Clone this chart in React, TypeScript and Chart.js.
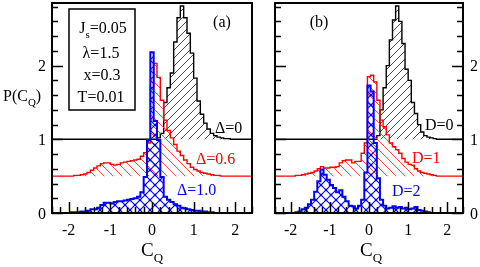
import React, { useEffect, useRef } from "react";
import { Chart, registerables } from "chart.js";
Chart.register(...registerables);

// Histogram bin centres (C_Q)
const binCenters = [
  -2.0, -1.92, -1.84, -1.76, -1.68, -1.6, -1.52, -1.44, -1.36, -1.28, -1.2, -1.12, -1.04,
  -0.96, -0.88, -0.8, -0.72, -0.64, -0.56, -0.48, -0.4, -0.32, -0.24, -0.16, -0.08, 0.0,
  0.08, 0.16, 0.24, 0.32, 0.4, 0.48, 0.56, 0.64, 0.72, 0.8, 0.88, 0.96, 1.04, 1.12, 1.2,
  1.28, 1.36, 1.44, 1.52, 1.6, 1.68, 1.76, 1.84, 1.92, 2.0,
];

// Panel (a): Delta = 0 (offset 1), 0.6 (offset 0.5), 1.0 (offset 0)
const deltaZeroA = [
  0, 0, 0, 0, 0, 0, 0, 0, 0, 0, 0, 0, 0,
  0, 0, 0, 0, 0, 0, 0, 0, 0, 0, 0, 0, 0,
  0, 0.02, 0.08, 0.5, 0.7, 0.9, 1.32, 1.65, 1.81, 1.65, 1.44, 1.17, 0.83, 0.52, 0.34,
  0.22, 0.14, 0.08, 0.05, 0.03, 0.02, 0.01, 0.01, 0, 0,
];
const deltaSixA = [
  0, 0, 0.01, 0.01, 0.02, 0.03, 0.05, 0.08, 0.11, 0.14, 0.17, 0.18, 0.18,
  0.16, 0.15, 0.16, 0.18, 0.19, 0.2, 0.21, 0.22, 0.23, 0.27, 0.32, 0.45, 1.2,
  1.53, 1.34, 1.03, 0.76, 0.62, 0.52, 0.43, 0.34, 0.28, 0.22, 0.17, 0.12, 0.09, 0.07, 0.05,
  0.04, 0.03, 0.02, 0.01, 0.01, 0, 0, 0, 0, 0,
];
const deltaOneA = [
  0, 0.01, 0.01, 0.01, 0.02, 0.02, 0.03, 0.05, 0.05, 0.07, 0.11, 0.14, 0.14,
  0.13, 0.15, 0.16, 0.16, 0.17, 0.18, 0.19, 0.2, 0.22, 0.28, 0.49, 0.99, 2.18,
  1.25, 0.99, 0.49, 0.22, 0.18, 0.15, 0.12, 0.1, 0.07, 0.06, 0.05, 0.04, 0.03, 0.03, 0.02,
  0.02, 0.01, 0.01, 0, 0, 0, 0, 0, 0, 0,
];

// Panel (b): D = 0 (offset 1), D = 1 (offset 0.5), D = 2 (offset 0)
const dZeroB = [
  0, 0, 0, 0, 0, 0, 0, 0, 0, 0, 0, 0, 0,
  0, 0, 0, 0, 0, 0, 0, 0, 0, 0, 0, 0, 0,
  0, 0, 0.05, 0.4, 0.7, 1.0, 1.35, 1.62, 1.81, 1.6, 1.3, 0.95, 0.8, 0.5, 0.35,
  0.2, 0.1, 0.05, 0.03, 0.02, 0.01, 0, 0, 0, 0,
];
const dOneB = [
  0, 0, 0.01, 0.01, 0.02, 0.03, 0.04, 0.05, 0.07, 0.1, 0.13, 0.11, 0.11,
  0.12, 0.12, 0.13, 0.18, 0.21, 0.22, 0.22, 0.18, 0.2, 0.2, 0.31, 0.45, 1.35,
  1.37, 1.28, 1.03, 0.76, 0.67, 0.56, 0.45, 0.4, 0.36, 0.31, 0.24, 0.19, 0.16, 0.15, 0.1,
  0.07, 0.05, 0.04, 0.03, 0.02, 0.01, 0, 0, 0, 0,
];
const dTwoB = [
  0, 0, 0.01, 0.02, 0.05, 0.07, 0.12, 0.18, 0.29, 0.43, 0.59, 0.52, 0.45,
  0.38, 0.34, 0.28, 0.31, 0.22, 0.16, 0.1, 0.09, 0.06, 0.1, 0.18, 0.55, 1.73,
  1.65, 0.95, 0.47, 0.18, 0.1, 0.06, 0.07, 0.09, 0.07, 0.08, 0.06, 0.07, 0.05, 0.06, 0.08,
  0.04, 0.03, 0.02, 0.01, 0, 0, 0, 0, 0, 0,
];

const offsets = [1, 0.5, 0];
const xTickLabels = ["-2", "-1", "0", "1", "2"];
const yTickLabels = ["0", "1", "2"];
const xRange = [-2.4, 2.4];
const yRange = [0, 2.85];

const SERIF = "'Liberation Serif', 'DejaVu Serif', serif";

function makePattern(color: string, kind: "fwd" | "back" | "cross", size: number, lw: number) {
  const c = document.createElement("canvas");
  c.width = size;
  c.height = size;
  const g = c.getContext("2d")!;
  g.strokeStyle = color;
  g.lineWidth = lw;
  const line = (a: number, b: number, d: number, e: number) => {
    g.beginPath();
    g.moveTo(a, b);
    g.lineTo(d, e);
    g.stroke();
  };
  if (kind === "fwd" || kind === "cross") {
    line(-1, size + 1, size + 1, -1);
    line(-1, 1, 1, -1);
    line(size - 1, size + 1, size + 1, size - 1);
  }
  if (kind === "back" || kind === "cross") {
    line(-1, -1, size + 1, size + 1);
    line(size - 1, -1, size + 1, 1);
    line(-1, size - 1, 1, size + 1);
  }
  if (kind === "cross") {
    g.fillStyle = color;
    const pts = [[size / 2, size / 2], [0, 0], [size, 0], [0, size], [size, size]];
    for (const [px, py] of pts) {
      g.beginPath();
      g.arc(px, py, 1.3, 0, Math.PI * 2);
      g.fill();
    }
  }
  return g.createPattern(c, "repeat")!;
}

type Part = { t: string; sub?: boolean };
function drawRich(ctx: CanvasRenderingContext2D, parts: Part[], x: number, y: number, size: number, align: "left" | "center" | "right", color: string) {
  const fontMain = `${size}px ${SERIF}`;
  const fontSub = `${Math.round(size * 0.7)}px ${SERIF}`;
  let total = 0;
  for (const p of parts) {
    ctx.font = p.sub ? fontSub : fontMain;
    total += ctx.measureText(p.t).width;
  }
  let cx = align === "left" ? x : align === "center" ? x - total / 2 : x - total;
  ctx.fillStyle = color;
  ctx.textAlign = "left";
  ctx.textBaseline = "alphabetic";
  for (const p of parts) {
    ctx.font = p.sub ? fontSub : fontMain;
    ctx.fillText(p.t, cx, p.sub ? y + size * 0.3 : y);
    cx += ctx.measureText(p.t).width;
  }
}

type Label = { parts: Part[]; x: number; y: number; size: number; align: "left" | "center" | "right"; color: string };
type PanelCfg = {
  series: number[][];
  padding: { left: number; right: number; top: number; bottom: number };
  leftLabels: boolean;
  rightLabels: boolean;
  rightTicks: boolean;
  labels: Label[];
  box?: { x0: number; y0: number; x1: number; y1: number };
};

function buildChart(canvas: HTMLCanvasElement, cfg: PanelCfg) {
  const colors = ["#000000", "#ff0000", "#0000ff"];
  const patterns = [
    makePattern("#333333", "fwd", 8, 0.9),
    makePattern("#ff3333", "back", 9, 0.9),
    makePattern("#0000ff", "cross", 10, 1.1),
  ];
  const widths = [1.4, 1.4, 2];
  const datasets = [2, 1, 0].map((k) => {
    const base = offsets[k];
    const pts = [{ x: -2.7, y: base }];
    binCenters.forEach((c, i) => pts.push({ x: c, y: base + cfg.series[k][i] }));
    pts.push({ x: 2.7, y: base });
    return {
      data: pts,
      borderColor: colors[k],
      borderWidth: widths[k],
      backgroundColor: patterns[k],
      fill: { value: base },
      stepped: "middle" as const,
      pointRadius: 0,
      tension: 0,
    };
  });

  const decor = {
    id: "decor",
    afterDraw(chart: any) {
      const ctx: CanvasRenderingContext2D = chart.ctx;
      const xs = chart.scales.x;
      const ys = chart.scales.y;
      const { left, right, top, bottom } = chart.chartArea;
      ctx.save();
      ctx.strokeStyle = "#000";
      ctx.lineWidth = 2;
      ctx.strokeRect(left, top, right - left, bottom - top);
      ctx.lineWidth = 1.5;
      const majorX = xTickLabels.map(Number);
      const majorY = yTickLabels.map(Number);
      // x ticks
      for (let v = -24; v <= 24; v += 2) {
        const val = v / 10;
        const isMajor = majorX.some((m) => Math.abs(m - val) < 1e-6);
        const px = Math.round(xs.getPixelForValue(val)) + 0.5;
        const len = isMajor ? 11 : 6;
        ctx.beginPath();
        ctx.moveTo(px, bottom);
        ctx.lineTo(px, bottom - len);
        ctx.stroke();
      }
      // y ticks
      for (let v = 0; v <= 28; v += 2) {
        const val = v / 10;
        const isMajor = majorY.some((m) => Math.abs(m - val) < 1e-6);
        const py = Math.round(ys.getPixelForValue(val)) + 0.5;
        const len = isMajor ? 11 : 6;
        ctx.beginPath();
        ctx.moveTo(left, py);
        ctx.lineTo(left + len, py);
        ctx.stroke();
        if (cfg.rightTicks) {
          ctx.beginPath();
          ctx.moveTo(right, py);
          ctx.lineTo(right - len, py);
          ctx.stroke();
        }
      }
      // tick labels
      ctx.fillStyle = "#000";
      ctx.font = `16px ${SERIF}`;
      ctx.textBaseline = "alphabetic";
      ctx.textAlign = "center";
      xTickLabels.forEach((l) => ctx.fillText(l, xs.getPixelForValue(Number(l)), bottom + 22));
      yTickLabels.forEach((l) => {
        const py = ys.getPixelForValue(Number(l)) + 5.5;
        if (cfg.leftLabels) {
          ctx.textAlign = "right";
          ctx.fillText(l, left - 6, py);
        }
        if (cfg.rightLabels) {
          ctx.textAlign = "left";
          ctx.fillText(l, right + 7, py);
        }
      });
      if (cfg.box) {
        ctx.lineWidth = 1.5;
        ctx.strokeRect(cfg.box.x0, cfg.box.y0, cfg.box.x1 - cfg.box.x0, cfg.box.y1 - cfg.box.y0);
      }
      for (const lb of cfg.labels) drawRich(ctx, lb.parts, lb.x, lb.y, lb.size, lb.align, lb.color);
      ctx.restore();
    },
  };

  return new Chart(canvas, {
    type: "line",
    data: { datasets: datasets as any },
    options: {
      responsive: false,
      animation: false,
      layout: { padding: cfg.padding },
      scales: {
        x: { type: "linear", min: xRange[0], max: xRange[1], display: false },
        y: { type: "linear", min: yRange[0], max: yRange[1], display: false },
      },
      plugins: { legend: { display: false }, tooltip: { enabled: false } },
    },
    plugins: [decor],
  });
}

export default function App() {
  const refA = useRef<HTMLCanvasElement>(null);
  const refB = useRef<HTMLCanvasElement>(null);
  useEffect(() => {
    const a = buildChart(refA.current!, {
      series: [deltaZeroA, deltaSixA, deltaOneA],
      padding: { left: 52, right: 4, top: 3, bottom: 54 },
      leftLabels: true,
      rightLabels: false,
      rightTicks: false,
      box: { x0: 69, y0: 9, x1: 135, y1: 110 },
      labels: [
        { parts: [{ t: "J" }, { t: "s", sub: true }, { t: "=0.05" }], x: 103, y: 33, size: 16, align: "center", color: "#000" },
        { parts: [{ t: "λ=1.5" }], x: 101, y: 58, size: 16, align: "center", color: "#000" },
        { parts: [{ t: "x=0.3" }], x: 102, y: 80, size: 16, align: "center", color: "#000" },
        { parts: [{ t: "T=0.01" }], x: 101, y: 102, size: 16, align: "center", color: "#000" },
        { parts: [{ t: "(a)" }], x: 222, y: 27, size: 16, align: "center", color: "#000" },
        { parts: [{ t: "Δ=0" }], x: 215, y: 133, size: 16, align: "left", color: "#000" },
        { parts: [{ t: "Δ=0.6" }], x: 196, y: 164, size: 16, align: "left", color: "#ff0000" },
        { parts: [{ t: "Δ=1.0" }], x: 177, y: 195, size: 16, align: "left", color: "#0000ff" },
        { parts: [{ t: "P(C" }, { t: "Q", sub: true }, { t: ")" }], x: 3, y: 101, size: 16, align: "left", color: "#000" },
        { parts: [{ t: "C" }, { t: "Q", sub: true }], x: 152, y: 256, size: 19, align: "center", color: "#000" },
      ],
    });
    const b = buildChart(refB.current!, {
      series: [dZeroB, dOneB, dTwoB],
      padding: { left: 19, right: 17, top: 3, bottom: 54 },
      leftLabels: false,
      rightLabels: true,
      rightTicks: true,
      labels: [
        { parts: [{ t: "(b)" }], x: 63, y: 27, size: 16, align: "center", color: "#000" },
        { parts: [{ t: "D=0" }], x: 169, y: 130, size: 16, align: "left", color: "#000" },
        { parts: [{ t: "D=1" }], x: 156, y: 163, size: 16, align: "left", color: "#ff0000" },
        { parts: [{ t: "D=2" }], x: 136, y: 196, size: 16, align: "left", color: "#0000ff" },
        { parts: [{ t: "C" }, { t: "Q", sub: true }], x: 115, y: 256, size: 19, align: "center", color: "#000" },
      ],
    });
    return () => {
      a.destroy();
      b.destroy();
    };
  }, []);
  return (
    <div style={{ position: "fixed", left: 0, top: 0, width: 480, height: 267, background: "#fff" }}>
      <canvas ref={refA} width={256} height={267} style={{ position: "absolute", left: 0, top: 0 }} />
      <canvas ref={refB} width={224} height={267} style={{ position: "absolute", left: 256, top: 0 }} />
    </div>
  );
}
